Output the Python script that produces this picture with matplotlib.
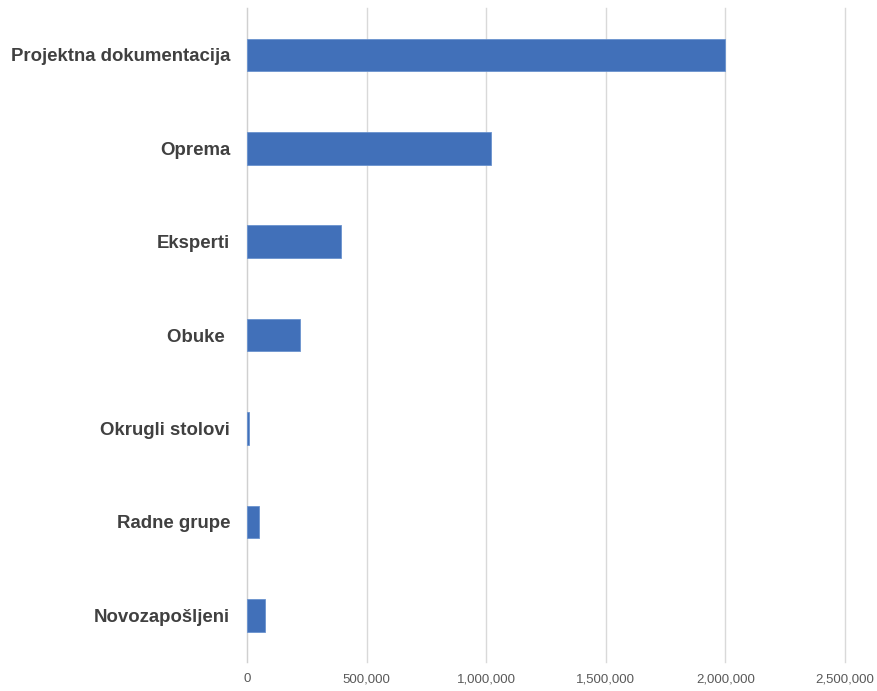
import matplotlib.pyplot as plt
from matplotlib.ticker import FuncFormatter

# Datos
categorias = ["Projektna dokumentacija", "Oprema", "Eksperti", "Obuke ",
              "Okrugli stolovi", "Radne grupe", "Novozapošljeni"]
valores = [2000000, 1021000, 393000, 221000, 8400, 50000, 76000]
ticks_x = [0, 500000, 1000000, 1500000, 2000000, 2500000]

fig = plt.figure(figsize=(8.77, 6.91), dpi=100)
ax = fig.add_axes([0.2816, 0.042, 0.682, 0.946])

pos = range(len(categorias))
ax.barh(pos, valores, height=0.35, color="#4170B9", edgecolor="#6a93cf",
        linewidth=0.6, zorder=3)

ax.set_xlim(0, 2500000)
ax.set_ylim(len(categorias) - 0.5, -0.5)
ax.set_xticks(ticks_x)
ax.xaxis.set_major_formatter(FuncFormatter(lambda v, p: f"{int(v):,}"))
ax.set_yticks(list(pos))
ax.set_yticklabels(categorias, fontfamily="Liberation Sans", fontweight="bold",
                   fontsize=13.4, color="#404040")
for lbl in ax.get_xticklabels():
    lbl.set_fontfamily("Liberation Sans")
    lbl.set_fontsize(9.5)
    lbl.set_color("#595959")

ax.grid(axis="x", color="#d9d9d9", linewidth=1, zorder=0)
for linea in ax.get_xgridlines():
    linea.set_clip_on(False)
for s in ["top", "right", "bottom"]:
    ax.spines[s].set_visible(False)
ax.spines["left"].set_color("#d0d0d0")
ax.tick_params(axis="both", length=0)
ax.tick_params(axis="y", pad=12)
ax.tick_params(axis="x", pad=8)

plt.savefig("out.png", dpi=100)
